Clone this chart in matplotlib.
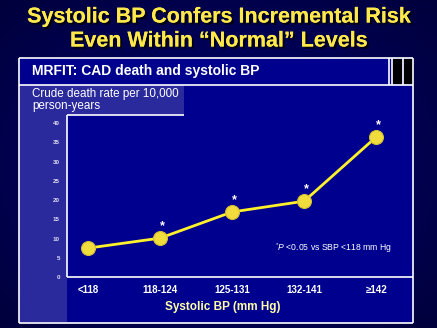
import matplotlib.pyplot as plt
import matplotlib.patheffects as pe
from matplotlib.patches import Rectangle
import numpy as np

plt.rcParams['font.family'] = ['Liberation Sans', 'DejaVu Sans']
plt.rcParams['mathtext.fontset'] = 'custom'
plt.rcParams['mathtext.rm'] = 'Liberation Sans'
plt.rcParams['mathtext.it'] = 'Liberation Sans:italic'

# data
categories = ['<118', '118-124', '125-131', '132-141', '\u2265142']
death_rate = [7.5, 10.1, 16.9, 19.7, 36.4]
significant = [False, True, True, True, True]
yticks = [0, 5, 10, 15, 20, 25, 30, 35, 40]

W, H = 437, 328
fig = plt.figure(figsize=(W / 100, H / 100), dpi=100)

# background layer in pixel coords
bg = fig.add_axes([0, 0, 1, 1])
bg.set_xlim(0, W)
bg.set_ylim(H, 0)
bg.axis('off')
xx, yy = np.meshgrid(np.linspace(-1, 1, 200), np.linspace(-1, 1, 150))
grad = 1 - 0.35 * np.sqrt(xx ** 2 + yy ** 2)
bg.imshow(grad, extent=[0, W, H, 0], cmap=plt.matplotlib.colors.LinearSegmentedColormap.from_list(
    'bgc', ['#00003c', '#000070']), vmin=0.5, vmax=1, aspect='auto', zorder=0)

panel = '#00008e'
light = '#2a2a9c'
bg.add_patch(Rectangle((19, 58), 394, 265, fc=panel, ec='none', zorder=1))
bg.add_patch(Rectangle((19, 85), 48, 237, fc=light, ec='none', zorder=2))
bg.add_patch(Rectangle((19, 85), 165, 30, fc=light, ec='none', zorder=2))
# black stripes at top right
bg.add_patch(Rectangle((392, 59), 9.5, 25, fc='black', ec='none', zorder=2))
bg.add_patch(Rectangle((404, 59), 9, 25, fc='black', ec='none', zorder=2))
lw = 1.2
for (x0, y0, x1, y1) in [(19, 58, 413, 58), (19, 323, 413, 323), (19, 58, 19, 323),
                         (413, 58, 413, 323), (19, 84.5, 413, 84.5),
                         (389, 58, 389, 84.5), (391.5, 58, 391.5, 84.5),
                         (402.5, 58, 402.5, 84.5),
                         (67, 115, 184, 115), (67, 115, 67, 277), (67, 277, 413, 277)]:
    bg.plot([x0, x1], [y0, y1], color='white', lw=lw, zorder=3, solid_capstyle='butt')

shadow = [pe.withSimplePatchShadow(offset=(1.5, -1.5), shadow_rgbFace='black', alpha=0.8), pe.Normal()]
bg.text(219, 17, 'Systolic BP Confers Incremental Risk', ha='center', va='center',
        fontsize=15.5, fontweight='bold', color='#ffe84a', path_effects=shadow, zorder=4)
bg.text(219, 41, 'Even Within \u201cNormal\u201d Levels', ha='center', va='center',
        fontsize=15.5, fontweight='bold', color='#ffe84a', path_effects=shadow, zorder=4)
bg.text(32, 71, 'MRFIT: CAD death and systolic BP', ha='left', va='center',
        fontsize=10, fontweight='bold', color='white', zorder=4)
bg.text(32, 100, 'Crude death rate per 10,000\nperson-years', ha='left', va='center',
        fontsize=8.4, color='white', linespacing=0.95, zorder=4)
bg.text(223, 307, 'Systolic BP (mm Hg)', ha='center', va='center',
        fontsize=8.5, fontweight='bold', color='#ffffa8', zorder=4)

# data axes
ax = fig.add_axes([67 / W, (H - 277) / H, (413 - 67) / W, (277 - 115) / H])
ax.patch.set_alpha(0)
for s in ax.spines.values():
    s.set_visible(False)
x = np.arange(len(categories))
ax.plot(x, death_rate, color='#fff22a', lw=2, zorder=3)
ax.plot(x, death_rate, 'o', ms=10, mfc='#f0dc3c', mec='#d8c030', mew=0.8, zorder=4)
for xi, yi, sig in zip(x, death_rate, significant):
    if sig:
        ax.annotate('*', (xi, yi), xytext=(1.5, 4), textcoords='offset points',
                    ha='center', va='bottom', color='white', fontsize=9, fontweight='bold')
ax.text(3.4, 7.5, r'$^{*}P$ <0.05 vs SBP <118 mm Hg', ha='center', va='center',
        fontsize=6.2, color='white')
ax.set_xlim(-0.29, 4.51)
ax.set_ylim(0, 42.1)
ax.set_yticks(yticks)
ax.set_yticklabels([str(v) for v in yticks], fontsize=4.5, fontweight='bold', color='#e0e0f0')
ax.set_xticks(x)
ax.set_xticklabels(categories, fontsize=7, fontweight='bold', color='white')
ax.tick_params(length=0, axis='y', pad=5)
ax.tick_params(length=0, axis='x', pad=6)

fig.savefig('out.png', dpi=100)
